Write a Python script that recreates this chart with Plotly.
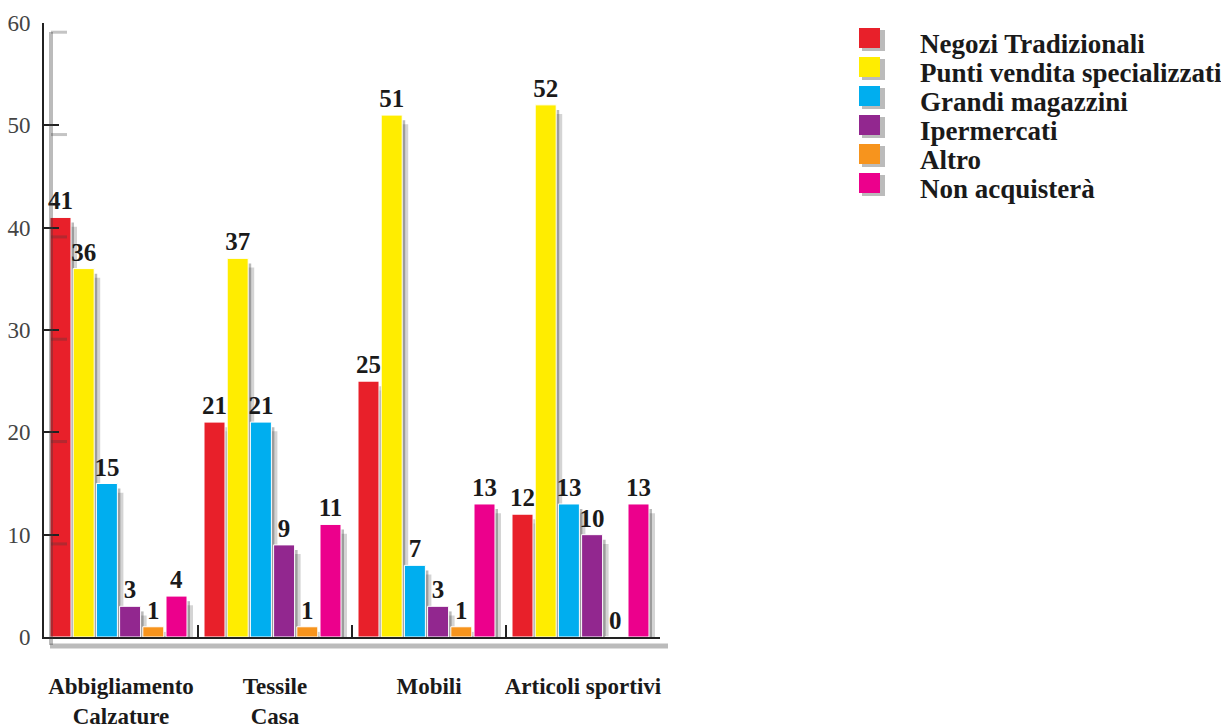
import plotly.graph_objects as go

# Purchase channel by product category (percent of respondents)
categories = ["Abbigliamento<br>Calzature", "Tessile<br>Casa", "Mobili", "Articoli sportivi"]
series_names = [
    "Negozi Tradizionali",
    "Punti vendita specializzati",
    "Grandi magazzini",
    "Ipermercati",
    "Altro",
    "Non acquisterà",
]
negozi_tradizionali = [41, 21, 25, 12]
punti_vendita = [36, 37, 51, 52]
grandi_magazzini = [15, 21, 7, 13]
ipermercati = [3, 9, 3, 10]
altro = [1, 1, 1, 0]
non_acquistera = [4, 11, 13, 13]
y_ticks = [0, 10, 20, 30, 40, 50, 60]

series_values = [negozi_tradizionali, punti_vendita, grandi_magazzini,
                 ipermercati, altro, non_acquistera]
colors = ["#E8202A", "#FFED00", "#00AEEF", "#92278F", "#F7941D", "#EC008C"]

# Canvas / plot-area geometry in pixels
W, H = 1221, 728
L, R, T, B = 44, 561, 23, 91
PW, PH = W - L - R, H - T - B
Y_MAX = 60
UNIT = PW / 4.0  # pixels per category slot

BAR_W = 21 / UNIT
BAR_STEP = 23.2 / UNIT
FIRST_OFF = -71 / UNIT

SERIF = "Liberation Serif, Times New Roman, serif"


def px_x(px):
    return (px - L) / PW


def px_y(py):
    return (H - B - py) / PH


fig = go.Figure()

# soft drop shadows behind the bars
for i, vals in enumerate(series_values):
    for dx, drop, alpha in ((3, 0.5, 0.32), (6, 0.9, 0.2)):
        fig.add_trace(go.Bar(
            x=categories,
            y=[max(v - drop, 0) for v in vals],
            width=BAR_W,
            offset=FIRST_OFF + i * BAR_STEP + dx / UNIT,
            marker=dict(color=f"rgba(40,40,40,{alpha})", line=dict(width=0)),
            hoverinfo="skip",
            showlegend=False,
        ))

# the bars themselves
for i, (name, vals) in enumerate(zip(series_names, series_values)):
    fig.add_trace(go.Bar(
        x=categories,
        y=vals,
        name=name,
        width=BAR_W,
        offset=FIRST_OFF + i * BAR_STEP,
        marker=dict(color=colors[i], line=dict(color="white", width=1)),
        text=vals,
        texttemplate="%{y}",
        textposition="outside",
        textfont=dict(family=SERIF, size=25, color="#1a1a1a", weight="bold"),
        constraintext="none",
        cliponaxis=False,
        showlegend=False,
    ))

shapes = []
# shadow of the vertical axis and its ticks
shapes.append(dict(type="line", xref="paper", yref="paper",
                   x0=px_x(51), x1=px_x(51), y0=px_y(645), y1=px_y(32),
                   line=dict(color="rgba(60,60,60,0.35)", width=4)))
for t in y_ticks[1:]:
    shapes.append(dict(type="line", xref="paper", yref="y",
                       x0=px_x(51), x1=px_x(67), y0=t - 0.9, y1=t - 0.9,
                       line=dict(color="rgba(60,60,60,0.3)", width=3)))
# shadow of the horizontal axis
shapes.append(dict(type="line", xref="paper", yref="paper",
                   x0=px_x(50), x1=px_x(668), y0=px_y(646), y1=px_y(646),
                   line=dict(color="rgba(60,60,60,0.35)", width=5)))

# custom legend: swatch + shadow + label
annotations = []
for i, (name, col) in enumerate(zip(series_names, colors)):
    cy = 38 + 29 * i
    shapes.append(dict(type="rect", xref="paper", yref="paper",
                       x0=px_x(862), x1=px_x(885), y0=px_y(cy + 13), y1=px_y(cy - 8),
                       fillcolor="rgba(60,60,60,0.35)", line=dict(width=0)))
    shapes.append(dict(type="rect", xref="paper", yref="paper",
                       x0=px_x(859), x1=px_x(880), y0=px_y(cy + 10), y1=px_y(cy - 10),
                       fillcolor=col, line=dict(width=0)))
    annotations.append(dict(
        text=name, xref="paper", yref="paper",
        x=px_x(918), y=px_y(cy + 6), xanchor="left", yanchor="middle",
        showarrow=False,
        font=dict(family=SERIF, size=27, color="#1a1a1a", weight="bold"),
    ))

fig.update_layout(
    width=W, height=H,
    margin=dict(l=L, r=R, t=T, b=B, pad=0),
    barmode="overlay",
    plot_bgcolor="white",
    paper_bgcolor="white",
    showlegend=False,
    shapes=shapes,
    annotations=annotations,
    xaxis=dict(
        type="category",
        range=[-0.5, 3.5],
        automargin=False,
        tickangle=0,
        showline=True, linecolor="#222", linewidth=2,
        ticks="inside", ticklen=12, tickwidth=2, tickcolor="#222",
        tickson="boundaries",
        showgrid=False, zeroline=False,
        tickfont=dict(family=SERIF, size=23, color="#1a1a1a", weight="bold"),
        ticklabelstandoff=27,
    ),
    yaxis=dict(
        range=[0, Y_MAX],
        tickvals=y_ticks,
        automargin=False,
        showline=True, linecolor="#222", linewidth=2,
        ticks="inside", ticklen=15, tickwidth=2, tickcolor="#222",
        showgrid=False, zeroline=False,
        tickfont=dict(family=SERIF, size=23, color="#444"),
        ticklabelstandoff=7,
    ),
)

fig.write_html("out.html")
